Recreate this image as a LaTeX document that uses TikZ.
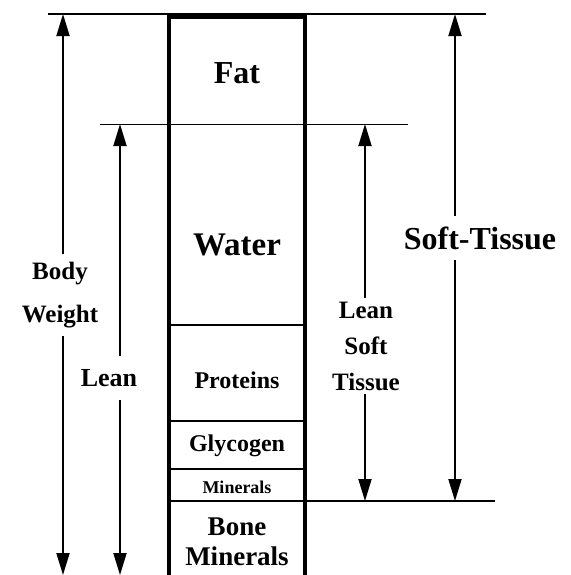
\documentclass[tikz,border=0pt]{standalone}
\usepackage{fontspec}
\setmainfont{Liberation Serif}
\usetikzlibrary{arrows.meta}
\tikzset{
	dim/.style={line width=0.9pt,-{Triangle[length=11pt,width=6.5pt]}},
	lbl/.style={font=\bfseries, align=center, inner sep=0pt},
	part/.style={line width=0.7pt},
}
\begin{document}
\begin{tikzpicture}[x=0.5pt,y=-0.5pt]
		\useasboundingbox (0,0) rectangle (570,575);
		% column
		\draw[line width=2pt] (169,575) -- (169,17) -- (305,17) -- (305,575);
		\draw[part] (169,325) -- (305,325);
		\draw[part] (169,421) -- (305,421);
		\draw[part] (169,469) -- (305,469);
		% levels
		\draw[line width=1pt] (48,14) -- (486,14);
		\draw[line width=0.5pt] (100,124) -- (408,124);
		\draw[line width=1pt] (169,501) -- (495,501);
		\path
		(237,73) node[lbl,font=\bfseries\fontsize{16}{19}\selectfont] (fat) {Fat}
		(237,245) node[lbl,font=\bfseries\fontsize{16.5}{19}\selectfont] (water) {Water}
		(237,380) node[lbl,font=\bfseries\fontsize{12}{14}\selectfont] (prot) {Proteins}
		(237,446) node[lbl,font=\bfseries\fontsize{12}{14}\selectfont] (glyc) {Glycogen}
		(237,487) node[lbl,font=\bfseries\fontsize{9}{11}\selectfont] (mins) {Minerals}
		(237,542) node[lbl,font=\bfseries\fontsize{13.5}{15}\selectfont] (bone) {Bone\\Minerals}
		;
		% dimensions
		\coordinate (bwtop) at (63,14);
		\coordinate (bwbot) at (63,575);
		\coordinate (lntop) at (120,124);
		\coordinate (lnbot) at (120,575);
		\coordinate (lsttop) at (365,124);
		\coordinate (lstbot) at (365,501);
		\coordinate (sttop) at (455,14);
		\coordinate (stbot) at (455,501);
		\path
		(60,295) node[lbl,font=\bfseries\fontsize{12.5}{21.5}\selectfont,minimum height=41pt] (bw) {Body\\Weight}
		(109,378) node[lbl,font=\bfseries\fontsize{13}{15}\selectfont,minimum height=22pt] (ln) {Lean}
		(366,346) node[lbl,font=\bfseries\fontsize{12.5}{18}\selectfont,minimum height=48pt] (lst) {Lean\\Soft\\Tissue}
		(480,238) node[lbl,font=\bfseries\fontsize{16}{19}\selectfont,minimum height=22pt] (st) {Soft-Tissue}
		;
		\draw[dim] (bw.north -| bwtop) -- (bwtop);
		\draw[dim] (bw.south -| bwbot) -- (bwbot);
		\draw[dim] (ln.north -| lntop) -- (lntop);
		\draw[dim] (ln.south -| lnbot) -- (lnbot);
		\draw[dim] (lst.north -| lsttop) -- (lsttop);
		\draw[dim] (lst.south -| lstbot) -- (lstbot);
		\draw[dim] (st.north -| sttop) -- (sttop);
		\draw[dim] (st.south -| stbot) -- (stbot);
	\end{tikzpicture}
\end{document}
